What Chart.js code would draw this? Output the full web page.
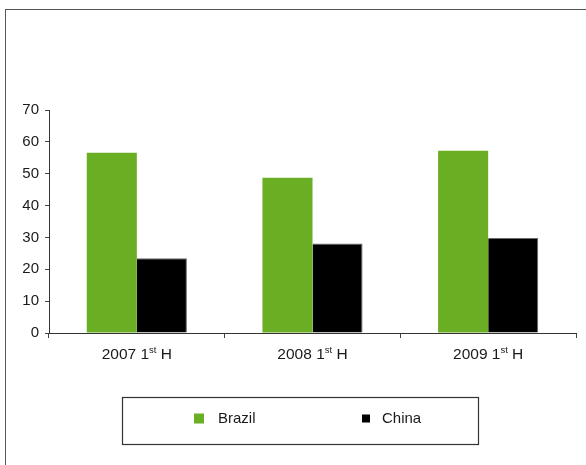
<!DOCTYPE html>
<html>
<head>
<meta charset="utf-8">
<script src="https://cdn.jsdelivr.net/npm/chart.js@4/dist/chart.umd.min.js"></script>
<style>
  html, body { margin: 0; padding: 0; background: #fff; overflow: hidden; }
  #wrap { position: relative; width: 586px; height: 465px; }
  #frame { position: absolute; left: 5px; top: 9px; width: 700px; height: 600px;
           border-left: 1.5px solid #555; border-top: 1.5px solid #555; box-sizing: border-box; }
  canvas { position: absolute; left: 0; top: 0; }
</style>
</head>
<body>
<div id="wrap">
  <div id="frame"></div>
  <canvas id="c" width="586" height="465"></canvas>
</div>
<script>
// Half-year periods and their superscript parts
const years = ['2007', '2008', '2009'];
const ordinals = ['1', '1', '1'];
const suffixes = ['st', 'st', 'st'];
const half = 'H';
const categories = years.map((y, i) => `${y} ${ordinals[i]}${suffixes[i]} ${half}`);

const brazil = [56.6, 48.7, 57.2];
const china = [23.5, 28.1, 29.8];

const yTicks = [0, 10, 20, 30, 40, 50, 60, 70];

const FONT = '"Liberation Sans", Arial, sans-serif';
const TEXT = '#1a1a1a';

// Draws the category labels with a raised ordinal suffix
const periodLabels = {
  id: 'periodLabels',
  afterDraw(chart) {
    const ctx = chart.ctx;
    const xs = chart.scales.x;
    const base = xs.top + 26;
    ctx.save();
    ctx.fillStyle = TEXT;
    ctx.textBaseline = 'alphabetic';
    ctx.textAlign = 'left';
    years.forEach((y, i) => {
      const a = `${y} ${ordinals[i]}`;
      const s = suffixes[i];
      const b = ` ${half}`;
      ctx.font = `15.5px ${FONT}`;
      const wa = ctx.measureText(a).width;
      const wb = ctx.measureText(b).width;
      ctx.font = `9.5px ${FONT}`;
      const ws = ctx.measureText(s).width;
      const total = wa + ws + wb;
      let x = xs.getPixelForTick(i) - total / 2;
      ctx.font = `15.5px ${FONT}`;
      ctx.fillText(a, x, base);
      x += wa;
      ctx.font = `9.5px ${FONT}`;
      ctx.fillText(s, x, base - 6);
      x += ws;
      ctx.font = `15.5px ${FONT}`;
      ctx.fillText(b, x, base);
    });
    ctx.restore();
  }
};

// Boxed legend beneath the plot
const boxedLegend = {
  id: 'boxedLegend',
  afterDraw(chart) {
    const ctx = chart.ctx;
    ctx.save();
    ctx.strokeStyle = '#333';
    ctx.lineWidth = 1.2;
    ctx.strokeRect(122.5, 397.5, 356, 47);
    const items = [
      { x: 194, size: 10, textX: 218 },
      { x: 362, size: 8, textX: 382 }
    ];
    ctx.font = `15px ${FONT}`;
    ctx.textBaseline = 'middle';
    ctx.textAlign = 'left';
    chart.data.datasets.forEach((ds, i) => {
      const it = items[i];
      ctx.fillStyle = ds.backgroundColor;
      ctx.fillRect(it.x, 418.5 - it.size / 2, it.size, it.size);
      ctx.fillStyle = TEXT;
      ctx.fillText(ds.label, it.textX, 419);
    });
    ctx.restore();
  }
};

new Chart(document.getElementById('c'), {
  type: 'bar',
  data: {
    labels: categories,
    datasets: [
      { label: 'Brazil', data: brazil, backgroundColor: '#6aae23', borderWidth: 0 },
      { label: 'China', data: china, backgroundColor: '#000000', borderColor: '#6a6a6a',
        borderWidth: { top: 1, left: 0, right: 1, bottom: 0 } }
    ]
  },
  options: {
    responsive: false,
    animation: false,
    devicePixelRatio: 1,
    layout: { padding: { top: 110, right: 10, bottom: 0, left: 0 } },
    datasets: { bar: { categoryPercentage: 0.57, barPercentage: 1 } },
    plugins: { legend: { display: false }, tooltip: { enabled: false } },
    scales: {
      x: {
        grid: { display: true, drawOnChartArea: false, offset: true, tickLength: 5, color: '#444' },
        border: { color: '#333', width: 1 },
        ticks: { callback: () => '', font: { size: 15, family: FONT } },
        afterFit(s) { s.height = 132; }
      },
      y: {
        min: 0, max: 70,
        afterBuildTicks(s) { s.ticks = yTicks.map(v => ({ value: v })); },
        grid: { display: true, drawOnChartArea: false, tickLength: 4, color: '#444' },
        border: { color: '#333', width: 1 },
        ticks: { color: TEXT, padding: 6, font: { size: 15, family: FONT } },
        afterFit(s) { s.width = 49; }
      }
    }
  },
  plugins: [periodLabels, boxedLegend]
});
</script>
</body>
</html>
